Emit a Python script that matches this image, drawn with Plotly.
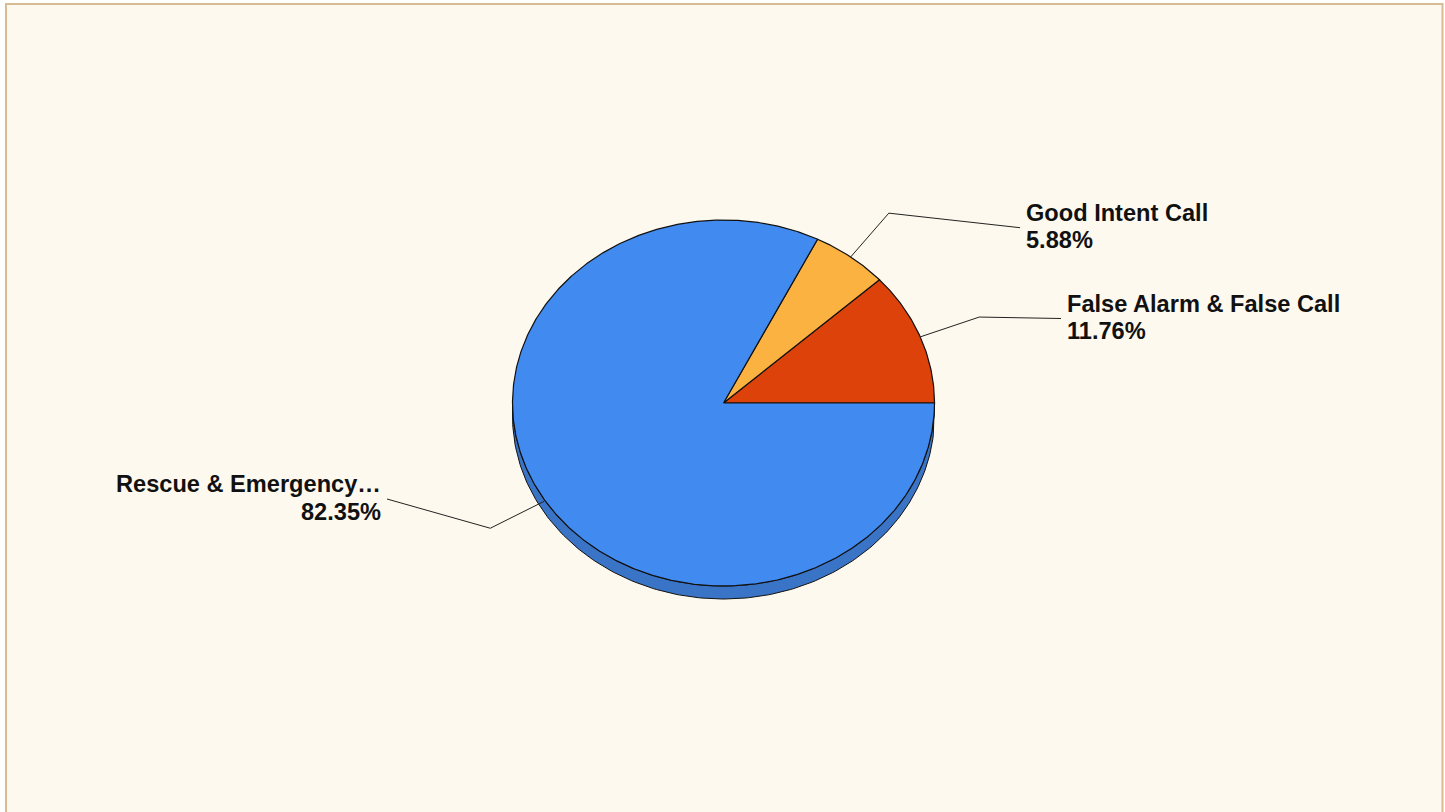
import numpy as np
import plotly.graph_objects as go

# ---- data ----
categories = ["False Alarm & False Call", "Good Intent Call", "Rescue & Emergency…"]
counts = [2, 1, 14]
colors = ["#DE420B", "#FBB241", "#418BF0"]
side_colors = ["#B5360A", "#D39536", "#3A74C6"]

# ---- layout constants (pixels) ----
W, H = 1445, 812
CX, CY, RX, RY, DEPTH = 723.5, 403, 211, 183, 13
LEADER_FACTOR = 1.3
FONT_SIZE = 23.6
LINE_GAP = 27.5
# label anchors (x, y_mid, side)
label_pos = [(1065, 317.5, "left"), (1024, 226.7, "left"), (383, 498, "right")]

total = sum(counts)
fracs = [c / total for c in counts]

def pt(a_deg, r=1.0, dy=0.0):
    a = np.radians(a_deg)
    return CX + r * RX * np.cos(a), CY - r * RY * np.sin(a) + dy

fig = go.Figure()

# angles
starts, ends = [], []
acc = 0.0
for f in fracs:
    starts.append(acc)
    acc += f * 360
    ends.append(acc)

# sides (3D rim) for visible lower half
for s, e, sc in zip(starts, ends, side_colors):
    lo, hi = max(s, 180), min(e, 360)
    if hi <= lo:
        continue
    a = np.linspace(lo, hi, 200)
    xt, yt = pt(a)
    xb, yb = pt(a[::-1], dy=DEPTH)
    xs = np.concatenate([xt, xb, xt[:1]])
    ys = np.concatenate([yt, yb, yt[:1]])
    fig.add_trace(go.Scatter(x=xs, y=ys, mode="lines", fill="toself",
                             fillcolor=sc, line=dict(color="#111111", width=1),
                             hoverinfo="skip", showlegend=False))

# top faces
for cat, c, s, e, col in zip(categories, counts, starts, ends, colors):
    a = np.linspace(s, e, max(int(e - s) * 2, 10))
    xa, ya = pt(a)
    xs = np.concatenate([[CX], xa, [CX]])
    ys = np.concatenate([[CY], ya, [CY]])
    fig.add_trace(go.Scatter(x=xs, y=ys, mode="lines", fill="toself",
                             fillcolor=col, line=dict(color="#111111", width=1.2),
                             name=cat, hoverinfo="text",
                             text=f"{cat}: {c}", showlegend=False))

font = dict(family="Liberation Sans, Arial, sans-serif", weight="bold",
            size=FONT_SIZE, color="#111111")

# leader lines and labels
for cat, f, s, e, (lx, ly, side) in zip(categories, fracs, starts, ends, label_pos):
    mid = (s + e) / 2
    x0, y0 = pt(mid)
    if 180 < mid < 360:
        y0 += 2
    x1, y1 = pt(mid, LEADER_FACTOR)
    x2 = lx - 4 if side == "left" else lx + 4
    fig.add_trace(go.Scatter(x=[x0, x1, x2], y=[y0, y1, ly + 1], mode="lines",
                             line=dict(color="#222222", width=1),
                             hoverinfo="skip", showlegend=False))
    anchor = "left" if side == "left" else "right"
    for txt, yy in ((cat, ly - LINE_GAP / 2), (f"{f*100:.2f}%", ly + LINE_GAP / 2)):
        fig.add_annotation(x=lx, y=yy, xref="x", yref="y", text=txt,
                           showarrow=False, xanchor=anchor, yanchor="middle",
                           align=anchor, font=font)

# background panel with border
fig.add_shape(type="rect", xref="x", yref="y", x0=6, x1=1442.5, y0=4, y1=830,
              fillcolor="#FEF9EE", line=dict(color="#D6BB93", width=2),
              layer="below")

fig.update_layout(
    width=W, height=H,
    margin=dict(l=0, r=0, t=0, b=0),
    paper_bgcolor="#FFFFFF", plot_bgcolor="#FFFFFF",
    xaxis=dict(range=[0, W], visible=False, fixedrange=True),
    yaxis=dict(range=[H, 0], visible=False, fixedrange=True),
    showlegend=False,
)

fig.write_html("out.html")
